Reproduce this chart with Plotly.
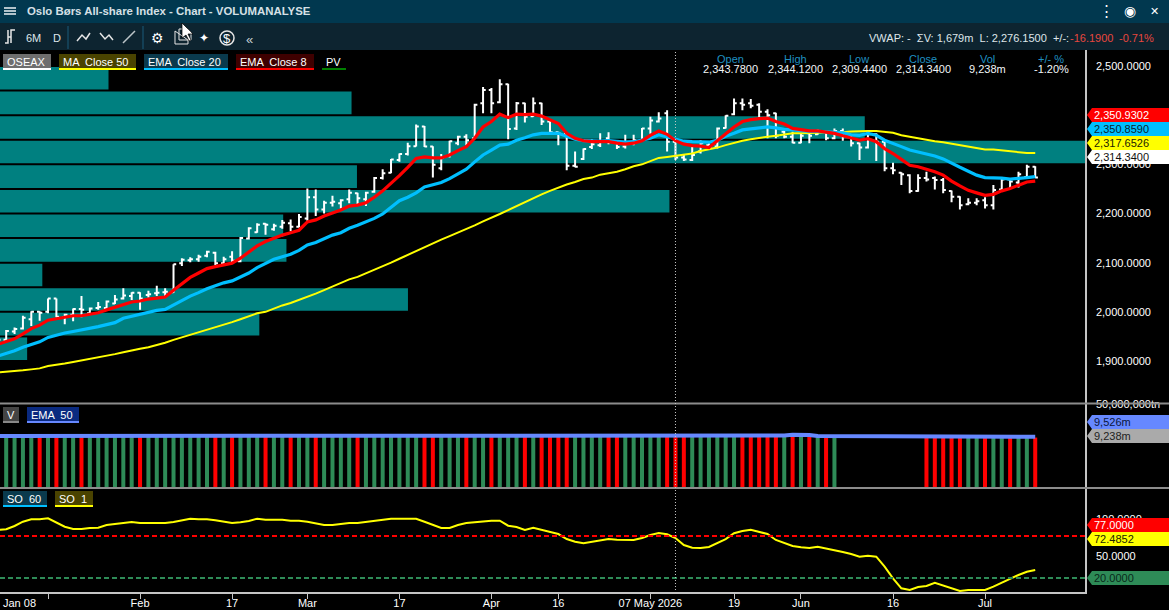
import plotly.graph_objects as go

W = 1169
H = 610
FONT = "Liberation Sans"

# bar numbers, one per trading day shown, bar -1 is cut by the left edge
bars = list(range(-1, 124))

opens = [1930, 1943, 1960, 1966, 1985, 2000, 2000, 2027, 1989, 1994, 2006,
  1997, 2008, 2008, 2017, 2027, 2032, 2039, 2034, 2038, 2040,
  2040, 2099, 2105, 2107, 2114, 2120, 2099, 2112, 2103, 2149,
  2162, 2179, 2168, 2173, 2180, 2173, 2190, 2233, 2208, 2222,
  2221, 2229, 2241, 2229, 2244, 2272, 2283, 2309, 2321, 2337,
  2377, 2336, 2292, 2317, 2343, 2356, 2353, 2424, 2451, 2426,
  2463, 2373, 2424, 2398, 2424, 2387, 2365, 2362, 2297, 2311,
  2335, 2339, 2353, 2346, 2336, 2343, 2349, 2373, 2387, 2404,
  2346, 2314, 2309, 2326, 2339, 2336, 2374, 2402, 2424, 2424,
  2421, 2407, 2404, 2366, 2356, 2344, 2363, 2361, 2366, 2353,
  2368, 2356, 2343, 2334, 2361, 2346, 2292, 2283, 2278, 2246,
  2272, 2272, 2268, 2246, 2234, 2219, 2222, 2227, 2217, 2249,
  2269, 2263, 2274, 2295]
highs = [1945, 1963, 1968, 1992, 2001, 2001, 2027, 2027, 1996, 2007, 2032,
  2009, 2020, 2023, 2034, 2048, 2040, 2040, 2043, 2053, 2048,
  2097, 2109, 2111, 2116, 2124, 2122, 2112, 2123, 2152, 2172,
  2180, 2180, 2179, 2187, 2188, 2199, 2251, 2249, 2226, 2236,
  2229, 2249, 2242, 2244, 2274, 2290, 2311, 2322, 2344, 2381,
  2378, 2337, 2321, 2348, 2358, 2361, 2423, 2457, 2455, 2473,
  2464, 2427, 2425, 2436, 2425, 2388, 2366, 2362, 2326, 2332,
  2351, 2363, 2365, 2347, 2360, 2360, 2374, 2397, 2406, 2410,
  2353, 2320, 2339, 2349, 2343, 2375, 2400, 2434, 2434, 2433,
  2424, 2412, 2405, 2370, 2366, 2363, 2364, 2371, 2368, 2373,
  2373, 2358, 2344, 2363, 2363, 2347, 2303, 2284, 2280, 2280,
  2285, 2275, 2272, 2247, 2235, 2231, 2231, 2233, 2258, 2272,
  2272, 2285, 2299, 2296]
lows = [1925, 1941, 1955, 1964, 1971, 1982, 1997, 1989, 1975, 1981, 1989,
  1996, 2004, 2006, 2016, 2025, 2024, 2004, 2029, 2032, 2032,
  2039, 2093, 2101, 2102, 2111, 2095, 2095, 2099, 2101, 2147,
  2161, 2157, 2165, 2169, 2164, 2172, 2185, 2195, 2200, 2214,
  2210, 2221, 2218, 2215, 2242, 2269, 2282, 2305, 2318, 2336,
  2335, 2273, 2288, 2314, 2339, 2339, 2353, 2404, 2404, 2424,
  2351, 2370, 2385, 2397, 2380, 2363, 2339, 2288, 2294, 2309,
  2331, 2335, 2341, 2331, 2332, 2339, 2348, 2362, 2385, 2326,
  2309, 2307, 2307, 2322, 2329, 2332, 2373, 2400, 2410, 2414,
  2395, 2353, 2353, 2353, 2343, 2343, 2343, 2360, 2349, 2351,
  2348, 2336, 2309, 2332, 2307, 2286, 2280, 2258, 2241, 2244,
  2265, 2249, 2241, 2223, 2208, 2217, 2217, 2210, 2208, 2248,
  2251, 2253, 2272, 2272]
closes = [1943, 1961, 1965, 1988, 2000, 1998, 2027, 1990, 1994, 2006, 2004,
  2007, 2010, 2021, 2025, 2033, 2039, 2027, 2036, 2039, 2041,
  2097, 2106, 2107, 2112, 2122, 2099, 2107, 2104, 2150, 2170,
  2177, 2177, 2175, 2181, 2173, 2193, 2233, 2208, 2222, 2224,
  2227, 2242, 2231, 2242, 2272, 2282, 2310, 2321, 2337, 2377,
  2336, 2299, 2314, 2347, 2356, 2349, 2421, 2451, 2424, 2463,
  2372, 2424, 2397, 2424, 2387, 2365, 2362, 2297, 2295, 2331,
  2341, 2346, 2346, 2335, 2343, 2349, 2373, 2389, 2393, 2346,
  2314, 2310, 2319, 2343, 2334, 2373, 2399, 2424, 2421, 2419,
  2407, 2400, 2358, 2356, 2344, 2358, 2358, 2367, 2353, 2368,
  2358, 2343, 2334, 2361, 2346, 2292, 2288, 2280, 2246, 2272,
  2269, 2268, 2248, 2234, 2217, 2222, 2225, 2217, 2248, 2269,
  2265, 2280, 2295, 2273]

ema_8 = [1934, 1939, 1945, 1955, 1966, 1973, 1983, 1986, 1989, 1992, 1992,
  1995, 1998, 2004, 2009, 2014, 2020, 2022, 2026, 2028, 2030,
  2044, 2058, 2070, 2079, 2088, 2092, 2095, 2099, 2109, 2122,
  2134, 2143, 2150, 2156, 2161, 2166, 2183, 2187, 2195, 2201,
  2207, 2215, 2217, 2222, 2233, 2246, 2261, 2277, 2294, 2312,
  2315, 2313, 2313, 2319, 2328, 2336, 2353, 2376, 2387, 2402,
  2395, 2402, 2401, 2402, 2398, 2390, 2383, 2363, 2353, 2348,
  2346, 2346, 2346, 2343, 2341, 2343, 2348, 2359, 2368, 2361,
  2348, 2341, 2338, 2337, 2334, 2348, 2363, 2376, 2387, 2391,
  2393, 2394, 2387, 2382, 2373, 2370, 2368, 2368, 2365, 2363,
  2358, 2353, 2349, 2352, 2346, 2332, 2322, 2310, 2298, 2295,
  2290, 2285, 2278, 2266, 2256, 2247, 2242, 2237, 2239, 2246,
  2251, 2258, 2264, 2266]
ema_20 = [1910, 1915, 1921, 1928, 1933, 1939, 1948, 1953, 1957, 1960, 1963,
  1967, 1970, 1974, 1978, 1987, 1991, 1995, 1999, 2003, 2005,
  2014, 2022, 2032, 2039, 2047, 2053, 2059, 2063, 2071, 2079,
  2090, 2098, 2107, 2112, 2117, 2125, 2136, 2141, 2149, 2156,
  2161, 2170, 2176, 2183, 2190, 2199, 2213, 2226, 2233, 2242,
  2254, 2259, 2263, 2271, 2280, 2290, 2305, 2319, 2329, 2339,
  2341, 2349, 2354, 2360, 2363, 2363, 2363, 2357, 2351, 2348,
  2347, 2347, 2348, 2347, 2345, 2346, 2349, 2353, 2360, 2356,
  2351, 2347, 2346, 2345, 2345, 2349, 2357, 2363, 2370, 2372,
  2374, 2376, 2374, 2371, 2370, 2368, 2367, 2367, 2366, 2366,
  2364, 2360, 2359, 2363, 2359, 2349, 2343, 2336, 2329, 2325,
  2322, 2317, 2311, 2302, 2294, 2286, 2278, 2273, 2273, 2272,
  2270, 2271, 2273, 2275]
ma_50 = [1877, 1878, 1879, 1881, 1883, 1885, 1890, 1892, 1895, 1898, 1901,
  1904, 1908, 1911, 1914, 1918, 1922, 1925, 1928, 1932, 1937,
  1943, 1948, 1953, 1959, 1964, 1969, 1974, 1979, 1985, 1991,
  1997, 2000, 2007, 2013, 2018, 2024, 2031, 2037, 2044, 2051,
  2058, 2066, 2071, 2078, 2085, 2092, 2100, 2108, 2116, 2123,
  2132, 2139, 2147, 2154, 2161, 2168, 2176, 2184, 2191, 2199,
  2207, 2215, 2224, 2231, 2239, 2246, 2253, 2259, 2264, 2270,
  2273, 2279, 2282, 2285, 2290, 2296, 2300, 2307, 2313, 2315,
  2317, 2319, 2322, 2327, 2330, 2334, 2339, 2344, 2348, 2351,
  2354, 2356, 2358, 2361, 2363, 2363, 2363, 2364, 2365, 2365,
  2365, 2367, 2368, 2368, 2368, 2366, 2364, 2359, 2356, 2352,
  2349, 2347, 2345, 2342, 2339, 2336, 2332, 2330, 2330, 2328,
  2326, 2325, 2323, 2323]

# volume by price, rows are 50 points high, share of the largest row
profile_price = [2475, 2425, 2375, 2325, 2275, 2225, 2175, 2125, 2075, 2025, 1975, 1925]
profile_share = [10.0, 32.4, 79.7, 100.0, 32.9, 61.7, 26.1, 26.4, 3.9, 37.6, 23.9, 2.5]

# volume in millions, no readings on bars 100-109
volume = [9400, 9400, 9400, 9400, 9400, 9400, 9400, 9400, 9400, 9400, 9400,
  9400, 9400, 9400, 9400, 9400, 9400, 9400, 9400, 9400, 9400,
  9400, 9400, 9400, 9400, 9400, 9400, 9400, 9400, 9400, 9400,
  9400, 9400, 9400, 9400, 9400, 9400, 9400, 9400, 9400, 9400,
  9400, 9400, 9400, 9400, 9400, 9400, 9400, 9400, 9400, 9400,
  9400, 9400, 9400, 9400, 9400, 9400, 9400, 9400, 9400, 9400,
  9400, 9400, 9400, 9400, 9400, 9400, 9400, 9400, 9400, 9400,
  9400, 9400, 9400, 9400, 9400, 9400, 9400, 9400, 9400, 9400,
  9400, 9400, 9400, 9400, 9400, 9400, 9400, 9400, 9400, 9400,
  9400, 9400, 9400, 9400, 9400, 9400, 9400, 9400, 9400, 9400,
  None, None, None, None, None, None, None, None, None, None,
  9400, 9400, 9400, 9400, 9400, 9400, 9400, 9400, 9400, 9400,
  9400, 9400, 9400, 9238]
volume_ema = [9526, 9526, 9526, 9526, 9526, 9526, 9526, 9526, 9526, 9526, 9526,
  9526, 9526, 9526, 9526, 9526, 9526, 9526, 9526, 9526, 9526,
  9526, 9526, 9526, 9526, 9526, 9526, 9526, 9526, 9526, 9526,
  9526, 9526, 9526, 9526, 9526, 9526, 9526, 9526, 9526, 9526,
  9526, 9526, 9526, 9526, 9526, 9526, 9526, 9526, 9526, 9600,
  9700, 9700, 9700, 9700, 9700, 9700, 9700, 9700, 9700, 9700,
  9700, 9700, 9700, 9700, 9700, 9700, 9700, 9700, 9700, 9700,
  9700, 9700, 9700, 9700, 9700, 9700, 9700, 9700, 9700, 9700,
  9700, 9700, 9700, 9600, 9560, 9700, 9600, 9526, 9526, 9526,
  9526, 9526, 9526, 9600, 9750, 9800, 9700, 9526, 9526, 9526,
  9526, 9526, 9526, 9526, 9526, 9526, 9526, 9526, 9526, 9526,
  9526, 9526, 9526, 9526, 9526, 9526, 9526, 9526, 9526, 9526,
  9526, 9526, 9526, 9400]
down_bars = [4, 6, 9, 16, 25, 27, 31, 34, 37, 42, 50, 51, 55, 58, 62, 64, 65, 66, 67,
  72, 73, 79, 80, 81, 88, 89, 90, 91, 92, 94, 96, 98, 110, 111, 112, 113, 114,
  117, 120, 123]

stochastic = [85.3, 86.1, 90.6, 96.4, 99.7, 99.7, 101.0, 95.0, 89.6, 86.5, 86.5,
  87.9, 88.3, 91.9, 93.3, 94.6, 96.0, 94.6, 94.6, 94.6, 94.6,
  96.0, 98.7, 100.5, 99.7, 99.7, 98.3, 96.4, 94.6, 95.6, 97.3,
  100.5, 99.1, 99.1, 99.1, 97.8, 97.8, 96.4, 94.6, 91.9, 91.9,
  93.3, 94.6, 94.6, 96.0, 97.3, 98.7, 100.5, 100.5, 100.5, 100.5,
  96.4, 92.3, 87.9, 87.9, 91.9, 94.6, 96.0, 97.3, 97.8, 97.8,
  91.0, 89.2, 85.1, 88.3, 85.5, 82.8, 79.7, 72.9, 69.3, 67.1,
  69.3, 71.6, 72.9, 72.0, 71.6, 71.6, 74.3, 78.4, 81.1, 79.3,
  74.3, 64.8, 61.1, 60.7, 62.1, 67.5, 72.9, 80.7, 83.8, 85.5,
  82.8, 79.7, 71.6, 67.5, 63.4, 61.7, 60.7, 62.5, 60.3, 58.0,
  55.3, 52.6, 48.9, 50.3, 48.9, 35.3, 19.6, 6.0, 3.7, 7.8,
  9.1, 13.6, 10.1, 6.0, 2.4, 3.7, 3.7, 3.7, 8.2, 13.6,
  18.6, 24.1, 28.5, 30.9]
so_upper = 77
so_lower = 20

tick_bars = [5, 16, 27, 36, 47, 58, 66, 77, 87, 95, 106, 117]
tick_labels = ["", "Feb", "17", "Mar", "17", "Apr", "16", "07 May 2026", "19", "Jun", "16", "Jul"]
price_ticks = [1900, 2000, 2100, 2200, 2300, 2400, 2500]
cursor_bar = 80

summary_heads = ["Open", "High", "Low", "Close", "Vol", "+/- %"]
summary_values = ["2,343.7800", "2,344.1200", "2,309.4400", "2,314.3400", "9,238m", "-1.20%"]

TEAL = "#008080"
GREEN = "#2e8b57"
RED = "#ff0000"
BLUE = "#00bfff"
YELLOW = "#ffff00"
PERIWINKLE = "#6688ff"
AXIS = "#c4c4c4"
X_RANGE = [-0.74, 128.95]


def tx(x):
  return x / W

def ty(y):
  return 1 - y / H

def poly(points, fill=None, line=None, width=1, closed=True):
  path = "M " + " L ".join(f"{tx(x):.5f},{ty(y):.5f}" for x, y in points)
  if closed:
    path += " Z"
  return dict(type="path", xref="paper", yref="paper", path=path, fillcolor=fill,
    line=dict(color=line, width=width if line else 0))

def box(x0, y0, x1, y1, fill):
  return poly([(x0, y0), (x1, y0), (x1, y1), (x0, y1)], fill=fill)

def stroke(points, color, width=1.5):
  return poly(points, line=color, width=width, closed=False)

def label(x, y, text, size=11, color="#ffffff", anchor="left", family=FONT):
  return dict(xref="paper", yref="paper", x=tx(x), y=ty(y), text=text, showarrow=False,
    xanchor=anchor, yanchor="middle", font=dict(family=family, size=size, color=color),
    borderpad=0, borderwidth=0)

shapes = []
notes = []

def chip(x0, x1, y0, fill, color, text):
  shapes.append(box(x0, y0, x1, y0 + 14, fill))
  shapes.append(box(x0, y0 + 14, x1, y0 + 16, color))
  notes.append(label(x0 + 4, y0 + 8, text))

def tag(y, fill, text, color):
  shapes.append(poly([(1087, y), (1092, y - 7), (1169, y - 7), (1169, y + 7), (1092, y + 7)], fill=fill))
  notes.append(label(1094, y, text, color=color))


# title bar and toolbar
shapes.append(box(0, 0, W, 23, "#01384f"))
shapes.append(box(0, 23, W, 50, "#0d2430"))
for y in [8, 11, 14]:
  shapes.append(stroke([(4, y), (16, y)], "#dfe6ea", 1.6))
notes.append(label(27, 11, "<b>Oslo Børs All-share Index - Chart - VOLUMANALYSE</b>", size=11.4, color="#d6e0e6"))
notes.append(label(1106, 11, "⋮", size=15, anchor="center"))
notes.append(label(1130, 11, "◉", size=14, anchor="center"))
notes.append(label(1154, 11, "✕", size=11, anchor="center"))

for x in [68, 143]:
  shapes.append(stroke([(x, 26), (x, 49)], "#1b5a7a", 1))
shapes.append(stroke([(5, 43), (8, 43), (8, 30), (8, 37), (11, 37), (11, 30), (15, 30), (11, 30), (11, 43)], "#e6e6e6", 1.5))
notes.append(label(26, 38, "6M", color="#dfe6ea"))
notes.append(label(53, 38, "D", color="#dfe6ea"))
shapes.append(stroke([(77, 41), (82, 35), (86, 39), (90, 33)], "#e6e6e6"))
shapes.append(stroke([(100, 33), (105, 39), (109, 35), (113, 40)], "#e6e6e6"))
shapes.append(stroke([(123, 43), (135, 31)], "#bcc4c8"))
notes.append(label(157, 38, "⚙", size=14, anchor="center", family="DejaVu Sans"))
shapes.append(poly([(175, 31), (175, 44), (188, 44), (188, 40)], line="#e6e6e6"))
shapes.append(poly([(179, 29), (188, 29), (191, 32), (191, 40), (179, 40)], line="#e6e6e6"))
notes.append(label(204, 38, "✦", size=12, anchor="center", family="DejaVu Sans"))
notes.append(label(227, 38, "$", size=13, anchor="center"))
shapes.append(dict(type="circle", xref="paper", yref="paper", x0=tx(220), x1=tx(234), y0=ty(45), y1=ty(31),
  line=dict(color="#e6e6e6", width=1.5)))
notes.append(label(249, 40, "«", size=13, anchor="center", color="#c8d0d4"))

notes.append(label(869, 38, "VWAP: -  ΣV: 1,679m  L: 2,276.1500  +/-:", color="#dfe6ea"))
notes.append(label(1070, 38, "-16.1900", color="#e8473f"))
notes.append(label(1119, 38, "-0.71%", color="#e8473f"))

# mouse pointer
shapes.append(poly([(182, 23), (182, 38), (186, 35), (189, 41), (191, 40), (188, 34), (193, 34)],
  fill="#ffffff", line="#000000", width=0.7))

# legend chips
chip(3, 51, 54, "#6e6e6e", "#ffffff", "OSEAX")
chip(59, 136, 54, "#4a4300", YELLOW, "MA  Close 50")
chip(144, 228, 54, "#0a3a4d", BLUE, "EMA  Close 20")
chip(236, 314, 54, "#3f0000", RED, "EMA  Close 8")
chip(322, 346, 54, "#000000", "#008000", "PV")
chip(3, 19, 407, "#444444", "#888888", "V")
chip(27, 79, 407, "#0a2a80", PERIWINKLE, "EMA  50")
chip(3, 47, 491, "#0a3a4d", BLUE, "SO  60")
chip(55, 93, 491, "#4a4300", YELLOW, "SO  1")

# OHLC summary over the price panel
for i, x in enumerate([731, 795, 859, 923, 987, 1051]):
  notes.append(label(x, 59, summary_heads[i], color="#1f8fc0", anchor="center"))
  notes.append(label(x, 69, summary_values[i], color="#f2f6f8", anchor="center"))

# last value tags on the right
tag(115, RED, "2,350.9302", "#ffffff")
tag(129, BLUE, "2,350.8590", "#08222e")
tag(143, YELLOW, "2,317.6526", "#222200")
tag(157, "#ffffff", "2,314.3400", "#111111")
tag(422, PERIWINKLE, "9,526m", "#0a1640")
tag(436, "#aaaaaa", "9,238m", "#222222")
tag(525, RED, "77.0000", "#ffffff")
tag(539, YELLOW, "72.4852", "#222200")
tag(578, GREEN, "20.0000", "#08281a")

notes.append(label(19, 603, "Jan 08", anchor="center"))

# panel separators
shapes.append(stroke([(0, 403.5), (W, 403.5)], "#8c8c8c", 2))
shapes.append(stroke([(0, 488), (W, 488)], "#8c8c8c", 2))

fig = go.Figure()

x_span = X_RANGE[1] - X_RANGE[0]
fig.add_trace(go.Bar(x=[s / 100 * x_span for s in profile_share], y=profile_price, base=X_RANGE[0], orientation="h", width=46,
  marker=dict(color=TEAL, line=dict(width=0)), xaxis="x", yaxis="y"))
fig.add_trace(go.Ohlc(x=bars, open=opens, high=highs, low=lows, close=closes, tickwidth=0.32,
  increasing=dict(line=dict(color="#ffffff", width=2)), decreasing=dict(line=dict(color="#ffffff", width=2)),
  xaxis="x", yaxis="y"))
fig.add_trace(go.Scatter(x=bars, y=ma_50, mode="lines", line=dict(color=YELLOW, width=2), xaxis="x", yaxis="y"))
fig.add_trace(go.Scatter(x=bars, y=ema_20, mode="lines", line=dict(color=BLUE, width=3.2), xaxis="x", yaxis="y"))
fig.add_trace(go.Scatter(x=bars, y=ema_8, mode="lines", line=dict(color=RED, width=3.2), xaxis="x", yaxis="y"))

bar_colours = [RED if i in down_bars else GREEN for i in bars]
fig.add_trace(go.Bar(x=bars, y=volume, width=0.48, marker=dict(color=bar_colours, line=dict(width=0)), xaxis="x", yaxis="y2"))
fig.add_trace(go.Scatter(x=bars, y=volume_ema, mode="lines", line=dict(color=PERIWINKLE, width=4), xaxis="x", yaxis="y2"))

fig.add_trace(go.Scatter(x=bars, y=stochastic, mode="lines", line=dict(color=YELLOW, width=2), xaxis="x", yaxis="y3"))

for level, colour in [(so_upper, RED), (so_lower, GREEN)]:
  shapes.append(dict(type="line", xref="x domain", yref="y3", x0=0, x1=1, y0=level, y1=level,
    line=dict(color=colour, width=2, dash="5px,3px")))
shapes.append(dict(type="line", xref="x", yref="paper", x0=cursor_bar, x1=cursor_bar, y0=ty(590), y1=ty(50),
  line=dict(color="#c8c8c8", width=1, dash="1px,2px")))

axis_font = dict(family=FONT, size=11, color="#ffffff")
right_axis = dict(side="right", anchor="x", showgrid=False, zeroline=False, showline=True, linecolor=AXIS, linewidth=1.5,
  ticks="outside", ticklen=7, tickcolor="#000000", tickfont=axis_font)

fig.update_layout(
  width=W,
  height=H,
  margin=dict(l=0, r=0, t=0, b=0, autoexpand=False),
  paper_bgcolor="#000000",
  plot_bgcolor="#000000",
  showlegend=False,
  hovermode=False,
  xaxis=dict(domain=[0, 1085 / W], range=X_RANGE, anchor="y3", tickmode="array", tickvals=tick_bars, ticktext=tick_labels,
    showgrid=False, zeroline=False, showline=True, linecolor=AXIS, linewidth=1.5, ticks="outside", ticklen=5, tickcolor=AXIS,
    tickfont=axis_font, ticklabelstandoff=-5, rangeslider=dict(visible=False)),
  yaxis=dict(domain=[ty(403), ty(50)], range=[1814.6, 2532.5], tickmode="array", tickvals=price_ticks,
    ticktext=[f"{p:,.4f}" for p in price_ticks], **right_axis),
  yaxis2=dict(domain=[ty(488), ty(404)], range=[0, 15388], tickmode="array", tickvals=[15388], ticktext=["50,000,000tn"], **right_axis),
  yaxis3=dict(domain=[ty(592), ty(489)], range=[1.0, 140.8], tickmode="array", tickvals=[50, 100], ticktext=["50.0000", "100.0000"], **right_axis),
  shapes=shapes,
  annotations=notes,
)

fig.write_html("out.html", config={"displayModeBar": False},
  post_script="document.body.style.margin='0';document.body.style.overflow='hidden';")
